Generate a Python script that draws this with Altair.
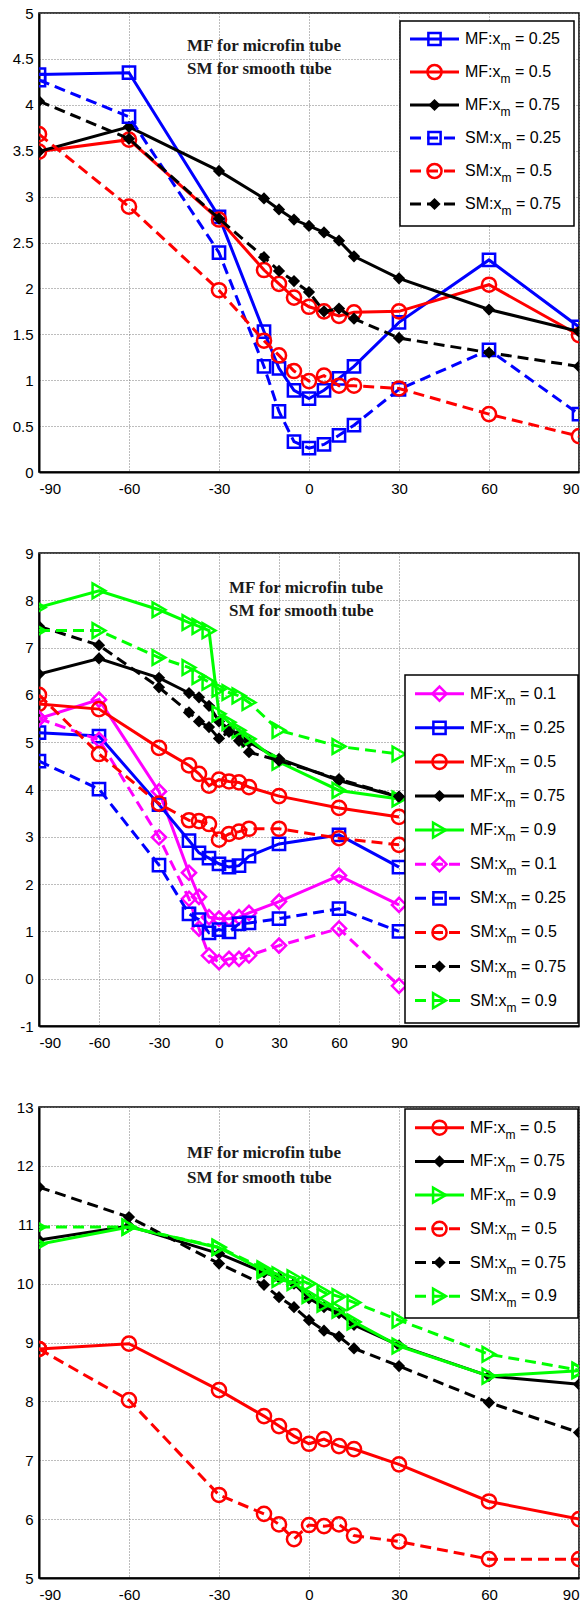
import altair as alt
import pandas as pd

# ---------------- data ----------------
X = [-90, -60, -30, -15, -10, -5, 0, 5, 10, 15, 30, 60, 90]

# panel 1
P1_MF_025 = [4.33, 4.35, 2.78, 1.53, 1.13, 0.89, 0.80, 0.89, 1.02, 1.15, 1.63, 2.31, 1.58]
P1_MF_05 = [3.49, 3.62, 2.75, 2.20, 2.05, 1.90, 1.80, 1.75, 1.70, 1.74, 1.75, 2.04, 1.49]
P1_MF_075 = [3.49, 3.76, 3.28, 2.98, 2.86, 2.75, 2.68, 2.61, 2.52, 2.35, 2.11, 1.77, 1.53]
P1_SM_025 = [4.27, 3.87, 2.39, 1.15, 0.66, 0.33, 0.26, 0.30, 0.40, 0.51, 0.90, 1.33, 0.63]
P1_SM_05 = [3.68, 2.89, 1.98, 1.43, 1.27, 1.10, 0.99, 1.05, 0.94, 0.94, 0.91, 0.63, 0.39]
P1_SM_075 = [4.04, 3.63, 2.76, 2.34, 2.19, 2.08, 1.96, 1.75, 1.78, 1.67, 1.46, 1.30, 1.15]

# panel 2
P2_MF_01 = [5.50, 5.90, 3.96, 2.24, 1.73, 1.30, 1.27, 1.27, 1.30, 1.39, 1.63, 2.18, 1.56]
P2_MF_025 = [5.20, 5.13, 3.68, 2.92, 2.66, 2.55, 2.43, 2.36, 2.39, 2.59, 2.85, 3.04, 2.36]
P2_MF_05 = [5.81, 5.70, 4.88, 4.51, 4.33, 4.08, 4.21, 4.17, 4.15, 4.05, 3.86, 3.61, 3.42]
P2_MF_075 = [6.44, 6.77, 6.36, 6.04, 5.95, 5.77, 5.44, 5.28, 5.17, 5.00, 4.65, 4.19, 3.84]
P2_MF_09 = [7.85, 8.20, 7.80, 7.53, 7.45, 7.36, 5.60, 5.42, 5.25, 5.07, 4.58, 3.98, 3.80]
P2_SM_01 = [5.50, 5.05, 2.99, 1.69, 1.06, 0.49, 0.35, 0.42, 0.42, 0.49, 0.70, 1.06, -0.15]
P2_SM_025 = [4.60, 4.01, 2.40, 1.37, 1.25, 0.97, 1.04, 0.99, 1.16, 1.18, 1.27, 1.48, 1.00]
P2_SM_05 = [6.00, 4.75, 3.70, 3.35, 3.33, 3.27, 2.94, 3.06, 3.11, 3.17, 3.17, 2.97, 2.83]
P2_SM_075 = [7.45, 7.05, 6.16, 5.63, 5.44, 5.32, 5.08, 5.22, 5.03, 4.79, 4.61, 4.22, 3.85]
P2_SM_09 = [7.36, 7.36, 6.79, 6.58, 6.39, 6.27, 6.12, 6.05, 5.98, 5.84, 5.25, 4.91, 4.75]

# panel 3
P3_MF_05 = [8.89, 8.98, 8.19, 7.75, 7.58, 7.41, 7.28, 7.36, 7.24, 7.19, 6.93, 6.30, 6.00]
P3_MF_075 = [10.74, 10.98, 10.51, 10.19, 10.10, 10.00, 9.75, 9.60, 9.50, 9.30, 8.95, 8.43, 8.29]
P3_MF_09 = [10.67, 10.96, 10.61, 10.22, 10.07, 10.02, 9.80, 9.65, 9.55, 9.35, 8.94, 8.43, 8.52]
P3_SM_05 = [8.89, 8.02, 6.41, 6.09, 5.91, 5.66, 5.90, 5.88, 5.91, 5.72, 5.62, 5.32, 5.32]
P3_SM_075 = [11.64, 11.13, 10.34, 9.98, 9.77, 9.60, 9.38, 9.20, 9.10, 8.90, 8.60, 7.98, 7.47]
P3_SM_09 = [10.96, 10.96, 10.62, 10.25, 10.15, 10.10, 10.00, 9.85, 9.78, 9.68, 9.38, 8.80, 8.53]

NOTE_LINES = ["MF for microfin tube", "SM for smooth tube"]

COLORS = {"0.1": "#ff00ff", "0.25": "#0000ff", "0.5": "#ff0000", "0.75": "#000000", "0.9": "#00ff00"}
SHAPES = {"0.1": "diamond", "0.25": "square", "0.5": "circle", "0.75": "diamond", "0.9": "triangle-right"}
SIZES = {"0.1": 200, "0.25": 150, "0.5": 200, "0.75": 150, "0.9": 220}
DASH = [11, 6]

PANELS = [
    dict(series=[("MF", "0.25", P1_MF_025), ("MF", "0.5", P1_MF_05), ("MF", "0.75", P1_MF_075),
                 ("SM", "0.25", P1_SM_025), ("SM", "0.5", P1_SM_05), ("SM", "0.75", P1_SM_075)],
         xdom=[-90, 90], ydom=[0, 5], yticks=[0, 0.5, 1, 1.5, 2, 2.5, 3, 3.5, 4, 4.5, 5],
         W=540, H=459,
         box=(361, 8, 535, 213), row0=26, drow=33, lx=(371, 420), tx=426,
         note=(148, 33, 23)),
    dict(series=[("MF", "0.1", P2_MF_01), ("MF", "0.25", P2_MF_025), ("MF", "0.5", P2_MF_05),
                 ("MF", "0.75", P2_MF_075), ("MF", "0.9", P2_MF_09),
                 ("SM", "0.1", P2_SM_01), ("SM", "0.25", P2_SM_025), ("SM", "0.5", P2_SM_05),
                 ("SM", "0.75", P2_SM_075), ("SM", "0.9", P2_SM_09)],
         xdom=[-90, 180], ydom=[-1, 9], yticks=list(range(-1, 10)),
         W=540, H=473,
         box=(366, 122, 539, 470), row0=140.7, drow=34.1, lx=(376, 425), tx=431,
         note=(190, 35, 23)),
    dict(series=[("MF", "0.5", P3_MF_05), ("MF", "0.75", P3_MF_075), ("MF", "0.9", P3_MF_09),
                 ("SM", "0.5", P3_SM_05), ("SM", "0.75", P3_SM_075), ("SM", "0.9", P3_SM_09)],
         xdom=[-90, 90], ydom=[5, 13], yticks=list(range(5, 14)),
         W=540, H=471,
         box=(366, 2, 539, 211), row0=20.7, drow=33.7, lx=(376, 425), tx=431,
         note=(148, 46, 25)),
]
XTICKS = [-90, -60, -30, 0, 30, 60, 90]

SANS = "Liberation Sans"
SERIF = "Liberation Serif"
FS = 16          # legend font size
SUB_FS = 12
AX_FS = 15


def make_panel(p):
    xdom, ydom, W, H = p["xdom"], p["ydom"], p["W"], p["H"]

    def px2x(px):
        return xdom[0] + px / W * (xdom[1] - xdom[0])

    def py2y(py):
        return ydom[1] - py / H * (ydom[1] - ydom[0])

    xs = alt.Scale(domain=xdom, nice=False, zero=False)
    ys = alt.Scale(domain=ydom, nice=False, zero=False)
    common = dict(title=None, labelExpr="'' + datum.value", labelFont=SANS, labelFontSize=AX_FS,
                  labelColor="black", grid=True, gridColor="#7a7a7a", gridDash=[1, 2], gridWidth=1,
                  gridOpacity=1, domainColor="black", domainWidth=2, ticks=False, tickSize=0)
    xax = alt.Axis(values=XTICKS, labelPadding=9, **common)
    yax = alt.Axis(values=p["yticks"], labelPadding=6, **common)

    def enc_x(f):
        return alt.X(f, type="quantitative", scale=xs, axis=xax)

    def enc_y(f):
        return alt.Y(f, type="quantitative", scale=ys, axis=yax)

    layers = []
    for tube, xm, vals in p["series"]:
        df = pd.DataFrame({"x": X, "y": vals})
        col = COLORS[xm]
        line_kw = dict(color=col, strokeWidth=3, clip=True)
        if tube == "SM":
            line_kw["strokeDash"] = DASH
        layers.append(alt.Chart(df).mark_line(**line_kw).encode(x=enc_x("x"), y=enc_y("y")))
        filled = xm == "0.75"
        layers.append(
            alt.Chart(df).mark_point(shape=SHAPES[xm], size=SIZES[xm], color=col, filled=filled,
                                     strokeWidth=2.5, opacity=1, clip=True)
            .encode(x=enc_x("x"), y=enc_y("y"))
        )

    # annotation text
    nx, ny, ndy = p["note"]
    note_df = pd.DataFrame({"x": [px2x(nx)] * 2,
                            "y": [py2y(ny), py2y(ny + ndy)],
                            "t": NOTE_LINES})
    layers.append(
        alt.Chart(note_df).mark_text(font=SERIF, fontWeight="bold", fontSize=17, align="left",
                                     baseline="middle", color="#1a1a1a")
        .encode(x=enc_x("x"), y=enc_y("y"), text="t:N")
    )

    # legend box
    bx0, by0, bx1, by1 = p["box"]
    box_df = pd.DataFrame({"x": [px2x(bx0)], "x2": [px2x(bx1)], "y": [py2y(by0)], "y2": [py2y(by1)]})
    layers.append(
        alt.Chart(box_df).mark_rect(fill="white", stroke="black", strokeWidth=1.5)
        .encode(x=enc_x("x"), x2="x2:Q", y=enc_y("y"), y2="y2:Q")
    )

    # legend rows
    lx0, lx1 = p["lx"]
    rows = []
    for i, (tube, xm, _) in enumerate(p["series"]):
        py = p["row0"] + i * p["drow"]
        pre = tube + ":x"
        pre_w = (2.222 if tube == "MF" else 2.278) * FS
        rows.append(dict(tube=tube, xm=xm, color=COLORS[xm], shape=SHAPES[xm], size=SIZES[xm],
                         y=py2y(py), lx0=px2x(lx0), lx1=px2x(lx1), mx=px2x((lx0 + lx1) / 2),
                         tx=px2x(p["tx"]), sx=px2x(p["tx"] + pre_w),
                         px=px2x(p["tx"] + pre_w + 0.833 * SUB_FS + 0.278 * FS),
                         pre=pre, sub="m", post="= " + xm))
    leg = pd.DataFrame(rows)

    for tube in ["MF", "SM"]:
        sub = leg[leg.tube == tube]
        kw = dict(strokeWidth=3)
        if tube == "SM":
            kw["strokeDash"] = DASH
        layers.append(
            alt.Chart(sub).mark_rule(**kw)
            .encode(x=enc_x("lx0"), x2="lx1:Q", y=enc_y("y"), color=alt.Color("color:N", scale=None))
        )
    for filled in [False, True]:
        sub = leg[(leg.xm == "0.75") == filled]
        layers.append(
            alt.Chart(sub).mark_point(filled=filled, strokeWidth=2.5, opacity=1)
            .encode(x=enc_x("mx"), y=enc_y("y"),
                    color=alt.Color("color:N", scale=None),
                    shape=alt.Shape("shape:N", scale=None),
                    size=alt.Size("size:Q", scale=None))
        )
    layers.append(
        alt.Chart(leg).mark_text(font=SANS, fontSize=FS, align="left", baseline="middle", color="black")
        .encode(x=enc_x("tx"), y=enc_y("y"), text="pre:N")
    )
    layers.append(
        alt.Chart(leg).mark_text(font=SANS, fontSize=SUB_FS, align="left", baseline="middle",
                                 color="black", dy=7)
        .encode(x=enc_x("sx"), y=enc_y("y"), text="sub:N")
    )
    layers.append(
        alt.Chart(leg).mark_text(font=SANS, fontSize=FS, align="left", baseline="middle", color="black")
        .encode(x=enc_x("px"), y=enc_y("y"), text="post:N")
    )

    return alt.layer(*layers).properties(width=W, height=H)


chart = alt.vconcat(*[make_panel(p) for p in PANELS], spacing=81, bounds="flush").properties(
    padding={"left": 11, "top": 5, "right": 0, "bottom": 5}, background="white"
).configure_view(stroke="black", strokeWidth=1.5)

chart.save("out.html", embed_options={"renderer": "svg", "actions": False})
